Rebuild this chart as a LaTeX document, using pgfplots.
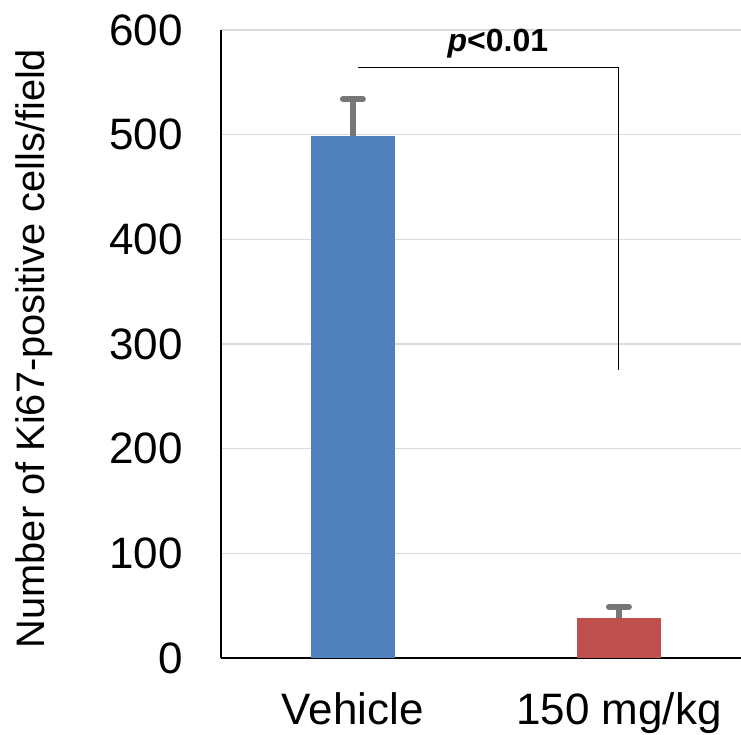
\documentclass[border=0pt]{standalone}
\usepackage{pgfplots}
\pgfplotsset{compat=1.18}
\usepackage{fontspec}
\setmainfont{Liberation Sans}
\definecolor{barblue}{HTML}{4F81BD}
\definecolor{barred}{HTML}{C0504D}
\definecolor{errgray}{HTML}{777777}
\definecolor{gridgray}{HTML}{D9D9D9}

\begin{document}
\begin{tikzpicture}
\begin{axis}[
  at={(0,0)}, anchor=south west,
  scale only axis, width=260pt, height=314pt,
  xmin=-0.496, xmax=1.459, ymin=0, ymax=600,
  ytick={0,100,...,600},
  xtick={0,1}, xticklabels={Vehicle, 150 mg/kg},
  axis x line*=bottom, axis y line*=left,
  x axis line style={line width=1pt, -},
  y axis line style={line width=0.8pt, -},
  major tick length=0pt,
  ymajorgrids, grid style={gridgray, line width=0.6pt},
  /pgf/number format/assume math mode=true,
  yticklabel style={font=\fontsize{22}{22}\selectfont, anchor=east, xshift=-15.5pt},
  xticklabel style={font=\fontsize{22}{22}\selectfont, anchor=base, yshift=-33.5pt},
  clip=false,
]
\addplot[ybar, bar width=0.316, fill=barblue, draw=none,
  error bars/.cd, y dir=plus, y explicit,
  error bar style={errgray, line width=2.6pt},
  error mark options={errgray, line width=3pt, rotate=90, mark size=5pt, line cap=round}]
  coordinates {(0,499) +- (0,35)};
\addplot[ybar, bar width=0.316, fill=barred, draw=none,
  error bars/.cd, y dir=plus, y explicit,
  error bar style={errgray, line width=2.6pt},
  error mark options={errgray, line width=3pt, rotate=90, mark size=5pt, line cap=round}]
  coordinates {(1,38) +- (0,11)};
% significance bracket
\addplot[black, line width=0.5pt, mark=none] coordinates {(0.019,564.5) (1,564.5) (1,275)};
\node[font=\fontsize{16}{16}\selectfont\bfseries] at (axis cs:0.545,587) {\textit{p}<0.01};
\end{axis}
\node[rotate=90, font=\fontsize{19.9}{19.9}\selectfont] at (-93.5pt,154.75pt) {Number of Ki67-positive cells/field};
\pgfresetboundingbox
\path[use as bounding box] (-110.5pt,-38.5pt) rectangle (260pt,329pt);
\end{tikzpicture}
\end{document}
